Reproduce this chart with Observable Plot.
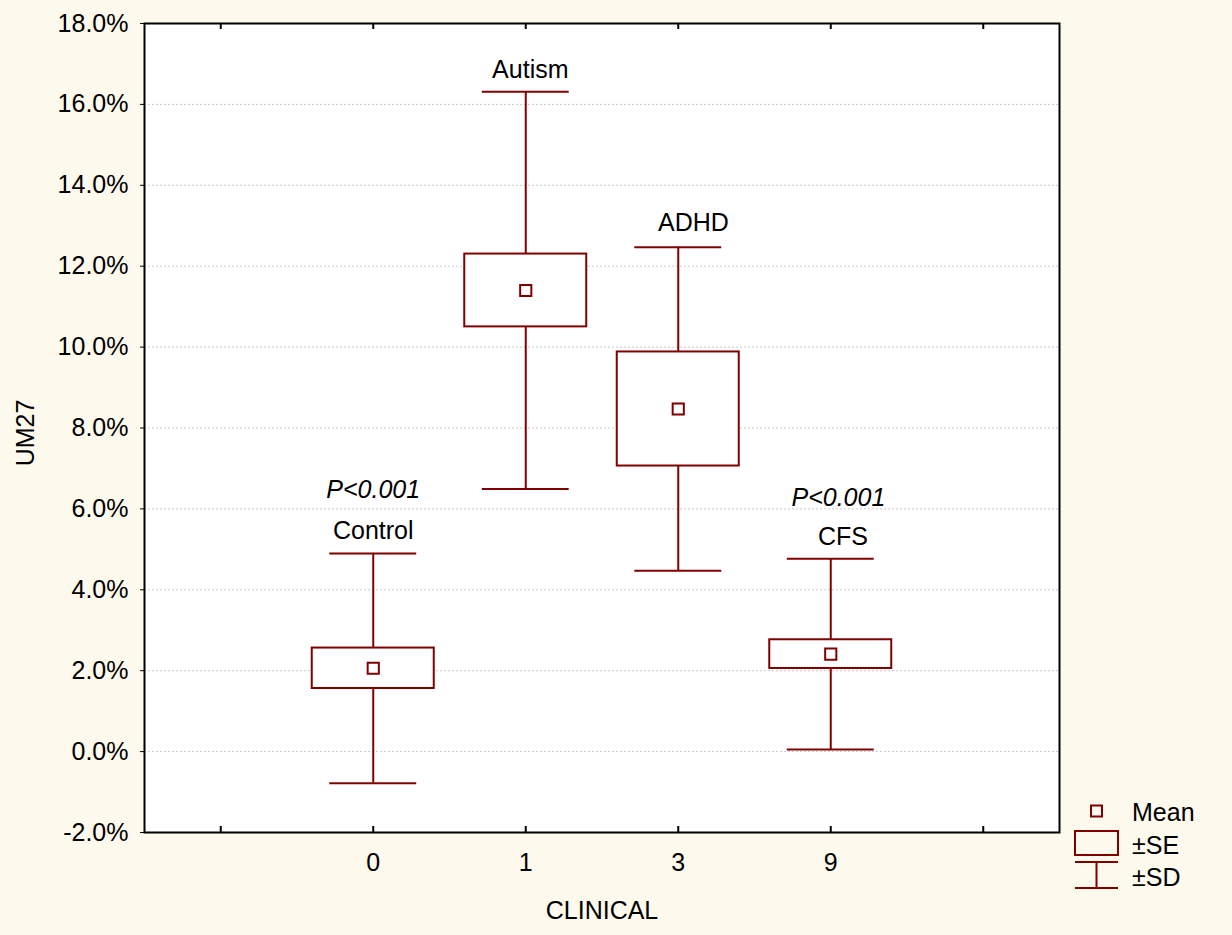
<!DOCTYPE html>
<html>
<head>
<meta charset="utf-8">
<script src="https://cdn.jsdelivr.net/npm/d3@7"></script>
<script src="https://cdn.jsdelivr.net/npm/@observablehq/plot@0.6"></script>
<style>
  html, body { margin: 0; padding: 0; background: #fdf9ed; }
</style>
</head>
<body>
<div id="chart"></div>
<script>
// ---- data ----
const clinicalCodes = ["0", "1", "3", "9"];
const groupNames = ["Control", "Autism", "ADHD", "CFS"];
const meanValues = [2.06, 11.40, 8.47, 2.41];   // UM27, %
const seValues   = [0.50, 0.90, 1.41, 0.355];
const sdValues   = [2.84, 4.91, 4.00, 2.36];

const yTicks = [-2, 0, 2, 4, 6, 8, 10, 12, 14, 16, 18];
const xTickIndex = [-1, 0, 1, 2, 3, 4];

// annotations (data coordinates: category index, %)
const annotText  = ["Autism", "ADHD", "Control", "P<0.001", "CFS", "P<0.001"];
const annotX     = [1.03, 2.10, 0.0, 0.0, 3.08, 3.05];
const annotY     = [16.84, 13.06, 5.46, 6.46, 5.30, 6.27];
const annotItalic = [false, false, false, true, false, true];

// ---- build tables ----
const rows = clinicalCodes.map((c, i) => ({
  pos: i, code: c, group: groupNames[i],
  mean: meanValues[i], se: seValues[i], sd: sdValues[i]
}));
const annots = annotText.map((t, i) => ({text: t, x: annotX[i], y: annotY[i], italic: annotItalic[i]}));

const maroon = "#800000";
const FS = 25;
const W = 1232, H = 935;
const mL = 144, mR = 173, mT = 23, mB = 103;
const plotH = H - mT - mB;
const boxHalf = 0.40, capHalf = 0.285;

const chart = Plot.plot({
  width: W, height: H,
  marginLeft: mL, marginRight: mR, marginTop: mT, marginBottom: mB,
  style: {fontFamily: "'Liberation Sans', Arial, sans-serif", fontSize: FS + "px", background: "#fdf9ed", color: "black", overflow: "visible"},
  x: {domain: [-1.5, 4.5], ticks: xTickIndex, tickSize: 0, tickPadding: 21,
      tickFormat: i => clinicalCodes[i] ?? "", label: null},
  y: {domain: [-2, 18], ticks: yTicks, tickSize: 4, tickPadding: 12,
      tickFormat: d => d.toFixed(1) + "%", label: null},
  marks: [
    Plot.frame({fill: "white", stroke: null}),
    Plot.ruleY(yTicks, {stroke: "#c8c8c8", strokeWidth: 1, strokeDasharray: "2,2"}),
    Plot.ruleX(rows, {x: "pos", y1: d => d.mean - d.sd, y2: d => d.mean + d.sd, stroke: maroon, strokeWidth: 2}),
    Plot.ruleY(rows, {y: d => d.mean + d.sd, x1: d => d.pos - capHalf, x2: d => d.pos + capHalf, stroke: maroon, strokeWidth: 2}),
    Plot.ruleY(rows, {y: d => d.mean - d.sd, x1: d => d.pos - capHalf, x2: d => d.pos + capHalf, stroke: maroon, strokeWidth: 2}),
    Plot.rect(rows, {x1: d => d.pos - boxHalf, x2: d => d.pos + boxHalf, y1: d => d.mean - d.se, y2: d => d.mean + d.se,
      fill: "white", stroke: maroon, strokeWidth: 2}),
    Plot.dot(rows, {x: "pos", y: "mean", symbol: "square", r: 6.3, fill: "white", stroke: maroon, strokeWidth: 2}),
    Plot.ruleX(xTickIndex, {x: d => d, insetTop: plotH - 6, stroke: "black", strokeWidth: 2}),
    Plot.ruleX(xTickIndex, {x: d => d, insetBottom: plotH - 6, stroke: "black", strokeWidth: 2}),
    Plot.frame({stroke: "black", strokeWidth: 2}),
    Plot.text(annots.filter(d => !d.italic), {x: "x", y: "y", text: "text", fill: "black", fontSize: FS}),
    Plot.text(annots.filter(d => d.italic), {x: "x", y: "y", text: "text", fill: "black", fontSize: FS, fontStyle: "italic"}),
    Plot.text(["CLINICAL"], {frameAnchor: "bottom", lineAnchor: "middle", textAnchor: "middle", dy: 78, fill: "black", fontSize: FS}),
    Plot.text(["UM27"], {frameAnchor: "left", lineAnchor: "middle", textAnchor: "middle", dx: -119, dy: 5, rotate: -90, fill: "black", fontSize: FS})
  ]
});
document.getElementById("chart").appendChild(chart);

// ---- legend (outside the plot frame) ----
const svg = d3.select(chart);
const lg = svg.append("g").attr("font-family", "'Liberation Sans', Arial, sans-serif")
  .attr("font-size", FS).attr("text-anchor", "start");
const lx = 1075, lw = 43, tx = 1132;
lg.append("rect").attr("x", lx + lw / 2 - 5.5).attr("y", 805.5).attr("width", 11).attr("height", 11)
  .attr("fill", "none").attr("stroke", maroon).attr("stroke-width", 2);
lg.append("rect").attr("x", lx).attr("y", 831).attr("width", lw).attr("height", 24)
  .attr("fill", "none").attr("stroke", maroon).attr("stroke-width", 2);
lg.append("line").attr("x1", lx).attr("x2", lx + lw).attr("y1", 862).attr("y2", 862).attr("stroke", maroon).attr("stroke-width", 2);
lg.append("line").attr("x1", lx).attr("x2", lx + lw).attr("y1", 888).attr("y2", 888).attr("stroke", maroon).attr("stroke-width", 2);
lg.append("line").attr("x1", lx + lw / 2).attr("x2", lx + lw / 2).attr("y1", 862).attr("y2", 888).attr("stroke", maroon).attr("stroke-width", 2);
[["Mean", 812], ["±SE", 845], ["±SD", 877]].forEach(([t, y]) => {
  lg.append("text").attr("x", tx).attr("y", y).attr("dy", "0.35em").attr("fill", "black").text(t);
});
</script>
</body>
</html>
